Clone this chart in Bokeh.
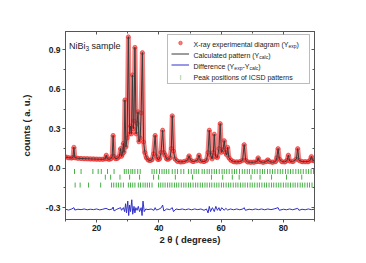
import math
from bokeh.plotting import figure
from bokeh.models import (Range1d, LinearAxis, FixedTicker, Legend, LegendItem, Label,
                          NumeralTickFormatter, CustomJSTickFormatter)
from bokeh.core.properties import value
from bokeh.embed import file_html
from bokeh.resources import INLINE

# ---------------- data ----------------
two_theta = [10.0, 11.0, 12.0, 12.4, 12.7, 13.0, 14.0, 15.0, 16.0, 17.0,
             18.0, 19.0, 20.0, 21.0, 22.0, 22.8, 23.1, 23.4, 24.0, 24.6,
             25.0, 25.3, 25.6, 26.1, 26.7, 27.3, 27.7, 28.0, 28.3, 28.6,
             28.8, 29.1, 29.4, 29.8, 30.2, 30.6, 30.9, 31.2, 31.5, 31.8,
             32.0, 32.3, 32.7, 33.0, 33.3, 33.6, 34.0, 34.3, 34.7, 35.1,
             35.5, 36.0, 36.6, 37.2, 37.8, 38.3, 38.8, 39.2, 39.7, 40.2,
             40.7, 41.2, 41.6, 42.0, 42.5, 43.0, 43.6, 44.0, 44.3, 44.7,
             45.2, 46.0, 47.0, 48.0, 49.2, 49.7, 50.2, 51.0, 52.4, 52.9,
             53.4, 54.5, 55.3, 55.8, 56.2, 56.6, 57.1, 57.5, 57.8, 58.2,
             58.8, 59.3, 59.7, 60.1, 60.6, 61.0, 61.4, 61.8, 62.1, 62.5,
             63.2, 64.0, 65.0, 66.0, 66.9, 67.4, 67.9, 68.5, 69.5, 70.5,
             71.5, 71.9, 72.3, 73.5, 74.5, 75.0, 75.5, 76.5, 77.5, 77.9,
             78.3, 78.7, 79.5, 80.5, 81.2, 81.6, 82.0, 83.0, 84.2, 84.6,
             85.0, 86.0, 87.0, 88.0, 88.6, 89.0, 89.4, 90.0]
counts = [0.085, 0.080, 0.078, 0.082, 0.160, 0.080, 0.076, 0.074, 0.073, 0.072,
          0.071, 0.070, 0.069, 0.068, 0.068, 0.072, 0.100, 0.072, 0.068, 0.072,
          0.090, 0.250, 0.090, 0.072, 0.076, 0.090, 0.150, 0.090, 0.110, 0.190,
          0.120, 0.520, 0.160, 0.230, 1.000, 0.260, 0.320, 0.260, 0.710, 0.300,
          0.360, 0.920, 0.260, 0.340, 0.430, 0.200, 0.230, 0.420, 0.880, 0.200,
          0.120, 0.080, 0.062, 0.058, 0.065, 0.110, 0.250, 0.090, 0.065, 0.070,
          0.120, 0.290, 0.120, 0.100, 0.070, 0.068, 0.080, 0.150, 0.400, 0.130,
          0.070, 0.052, 0.048, 0.050, 0.060, 0.095, 0.060, 0.050, 0.060, 0.100,
          0.055, 0.050, 0.060, 0.120, 0.290, 0.100, 0.070, 0.120, 0.260, 0.090,
          0.080, 0.150, 0.340, 0.120, 0.140, 0.210, 0.120, 0.100, 0.160, 0.080,
          0.060, 0.050, 0.048, 0.050, 0.060, 0.180, 0.060, 0.048, 0.045, 0.046,
          0.050, 0.080, 0.050, 0.045, 0.050, 0.065, 0.050, 0.045, 0.050, 0.080,
          0.150, 0.070, 0.050, 0.048, 0.060, 0.100, 0.055, 0.050, 0.070, 0.150,
          0.060, 0.050, 0.050, 0.050, 0.060, 0.090, 0.060, 0.055]

diff_theta = [10, 11, 12, 12.7, 13, 14, 15, 16, 17, 18,
              19, 20, 21, 22, 23, 24, 25, 25.3, 25.6, 26.5,
              27.7, 28.0, 28.6, 29.0, 29.3, 29.6, 30.0, 30.3, 30.6, 30.9,
              31.3, 31.6, 32.0, 32.3, 32.6, 33.0, 33.4, 33.8, 34.3, 34.6,
              34.9, 35.3, 35.8, 36.5, 37.5, 38.4, 38.8, 39.2, 40.0, 40.8,
              41.2, 41.6, 42.5, 43.5, 44.3, 44.7, 45.5, 46.5, 47.5, 48.5,
              49.5, 50.5, 51.5, 52.5, 53.5, 54.5, 55.3, 55.8, 56.2, 56.6,
              57.2, 57.8, 58.3, 58.8, 59.3, 59.7, 60.2, 61.0, 61.5, 62.1,
              63, 64, 65, 66, 67, 67.4, 67.8, 69, 70, 71,
              72, 73, 74, 75, 76, 77, 78.3, 78.7, 80, 81,
              82, 83, 84.6, 85, 86, 87, 88, 89, 90]
diff_counts = [-0.312, -0.318, -0.310, -0.300, -0.318, -0.312, -0.315, -0.310, -0.316, -0.312,
               -0.315, -0.310, -0.317, -0.312, -0.305, -0.316, -0.310, -0.295, -0.325, -0.312,
               -0.300, -0.320, -0.300, -0.330, -0.270, -0.340, -0.250, -0.360, -0.280, -0.330,
               -0.240, -0.350, -0.290, -0.340, -0.300, -0.320, -0.290, -0.330, -0.300, -0.360,
               -0.250, -0.330, -0.310, -0.315, -0.310, -0.320, -0.300, -0.318, -0.312, -0.300,
               -0.280, -0.325, -0.310, -0.315, -0.300, -0.330, -0.310, -0.315, -0.310, -0.316,
               -0.310, -0.316, -0.310, -0.315, -0.310, -0.320, -0.310, -0.340, -0.290, -0.330,
               -0.300, -0.330, -0.290, -0.320, -0.300, -0.325, -0.300, -0.320, -0.305, -0.318,
               -0.310, -0.316, -0.310, -0.316, -0.310, -0.300, -0.320, -0.312, -0.316, -0.310,
               -0.315, -0.310, -0.316, -0.310, -0.315, -0.310, -0.300, -0.320, -0.312, -0.316,
               -0.310, -0.316, -0.305, -0.320, -0.312, -0.316, -0.310, -0.315, -0.312]

# ICSD peak positions, three phases (rows)
phase1_peaks = [12.9, 15.0, 18.8, 20.5, 21.5, 23.5, 25.6, 28.9, 29.5, 30.2,
                31.0, 31.6, 32.3, 33.2, 34.0, 37.8, 38.5, 39.3, 40.2, 41.0,
                41.7, 42.4, 43.2, 44.3, 45.2, 46.0, 47.1, 48.0, 49.5, 50.4,
                51.3, 52.0, 52.8, 53.9, 54.6, 55.5, 56.2, 57.0, 57.8, 58.5,
                59.4, 60.3, 61.0, 61.8, 62.6, 63.5, 64.3, 65.0, 65.9, 66.8,
                67.6, 68.4, 69.1, 70.0, 70.8, 71.6, 72.5, 73.3, 74.0, 74.9,
                75.7, 76.5, 77.3, 78.2, 79.0, 79.8, 80.7, 81.5, 82.3, 83.1,
                84.0, 84.8, 85.6, 86.4, 87.3, 88.1, 88.9, 89.7]
phase2_peaks = [22.8, 24.5, 27.5, 30.6, 33.8, 38.3, 39.9, 45.3, 50.8, 56.9,
                60.5, 63.6, 65.8, 69.6, 72.5, 76.2, 81.0, 85.9]
phase3_peaks = [13.1, 14.7, 17.4, 21.3, 24.8, 25.5, 26.3, 27.0, 27.8, 28.6,
                30.2, 30.9, 31.6, 32.3, 33.4, 34.1, 34.9, 35.6, 36.3, 37.0,
                37.8, 39.9, 40.6, 41.3, 42.0, 42.8, 43.5, 44.2, 45.0, 45.7,
                46.4, 47.2, 48.0, 48.7, 49.5, 50.2, 51.0, 51.8, 52.5, 53.3,
                54.0, 54.8, 55.5, 56.3, 57.0, 57.8, 58.6, 59.3, 60.1, 60.8,
                61.6, 62.4, 63.1, 63.9, 64.7, 65.4, 66.2, 67.0, 67.7, 68.5,
                69.3, 70.0, 70.8, 71.6, 72.3, 73.1, 73.9, 74.6, 75.4, 76.2,
                76.9, 77.7, 78.5, 79.2, 80.0, 80.8, 81.5, 82.3, 83.1, 83.8,
                84.6, 85.4, 86.1, 86.9, 87.7, 88.4, 89.2]
phase_levels = [-0.025, -0.068, -0.128]

x_major_ticks = [20, 40, 60, 80]
x_minor_ticks = [10, 30, 50, 70, 90]
y_major_ticks = [-0.3, 0.0, 0.3, 0.6, 0.9]
y_minor_ticks = [-0.15, 0.15, 0.45, 0.75]

legend_rows = [
    [("X-ray experimental diagram (Y", 0), ("exp", 1), (")", 0)],
    [("Calculated pattern (Y", 0), ("calc", 1), (")", 0)],
    [("Difference (Y", 0), ("exp", 1), ("-Y", 0), ("calc", 1), (")", 0)],
    [("Peak positions of ICSD patterns", 0)],
]
sample_title = [("NiBi", 0), ("3", 1), (" sample", 0)]

# ---------------- layout ----------------
ORG = 0                                # page offset of the figure (observed)
FL, FT, FW, FH = 65, 31, 249, 188      # frame in page px
W, H = 352, 256
X0, X1 = 10, 90
Y0, Y1 = -0.39, 1.04
FONT = "Liberation Sans"
TXT = "#222222"
AX = "#555555"
GREEN = "#45b045"

p = figure(width=W, height=H, x_range=Range1d(X0, X1), y_range=Range1d(Y0, Y1),
           output_backend="svg", toolbar_location=None,
           x_axis_type=None, y_axis_type=None,
           min_border_left=FL - ORG, min_border_top=FT - ORG,
           min_border_right=W - (FL - ORG) - FW, min_border_bottom=H - (FT - ORG) - FH)
p.xgrid.visible = False
p.ygrid.visible = False
p.outline_line_color = AX
p.outline_line_width = 1
p.background_fill_color = "white"
p.border_fill_color = "white"


def style_axis(ax, inward, labels):
    ax.axis_line_color = AX
    ax.major_tick_line_color = AX
    ax.minor_tick_line_color = AX
    if inward:
        ax.major_tick_in, ax.major_tick_out = 3, 0
        ax.minor_tick_in, ax.minor_tick_out = 2, 0
    else:
        ax.major_tick_in, ax.major_tick_out = 0, 3
        ax.minor_tick_in, ax.minor_tick_out = 0, 2
    ax.major_label_text_font = FONT
    ax.major_label_text_font_size = "8.5px"
    ax.major_label_text_font_style = "bold"
    ax.major_label_text_color = TXT
    ax.major_label_standoff = 2
    ax.axis_label_text_font = FONT
    ax.axis_label_text_font_size = "9.5px"
    ax.axis_label_text_font_style = "bold"
    ax.axis_label_text_color = TXT
    if not labels:
        ax.formatter = CustomJSTickFormatter(code="return ''")


xt = FixedTicker(ticks=x_major_ticks, minor_ticks=x_minor_ticks)
yt = FixedTicker(ticks=y_major_ticks, minor_ticks=y_minor_ticks)

xb = LinearAxis(ticker=xt, formatter=NumeralTickFormatter(format="0"), axis_label="2 θ ( degrees)")
style_axis(xb, False, True)
xb.axis_label_standoff = 0
p.add_layout(xb, "below")

yl = LinearAxis(ticker=yt, formatter=NumeralTickFormatter(format="0.0"), axis_label="counts ( a. u.)")
style_axis(yl, False, True)
yl.axis_label_standoff = 11
p.add_layout(yl, "left")

xa = LinearAxis(ticker=xt)
style_axis(xa, True, False)
p.add_layout(xa, "above")

yr = LinearAxis(ticker=yt)
style_axis(yr, True, False)
p.add_layout(yr, "right")

# ---------------- glyphs ----------------
p.line(two_theta, counts, line_width=5, line_color="#ee2c2c", line_alpha=0.6)
r_exp = p.scatter(two_theta, counts, marker="circle", size=4,
                  fill_color="#ff5050", fill_alpha=0.75, line_color="#e01818", line_width=0.6, line_alpha=0.85)
r_calc = p.line(two_theta, counts, line_color="#3a3a3a", line_width=1)
r_diff = p.line(diff_theta, diff_counts, line_color="#3030c8", line_width=1)

tick_x, tick_y = [], []
for peaks, lvl in zip([phase1_peaks, phase2_peaks, phase3_peaks], phase_levels):
    tick_x += peaks
    tick_y += [lvl] * len(peaks)
r_pk = p.scatter(tick_x, tick_y, marker="dash", angle=math.pi / 2, size=5,
                 line_color=GREEN, line_width=1)

# ---------------- legend (box + glyphs), text overlaid ----------------
LEG_L, LEG_T, LEG_B = 167, 36, 84
ARIAL = {" ": 278, "(": 333, ")": 333, "-": 333, ".": 278,
         "A": 667, "B": 667, "C": 722, "D": 722, "E": 667, "F": 611, "G": 778, "H": 722, "I": 278,
         "N": 722, "O": 778, "P": 667, "R": 722, "S": 667, "X": 667, "Y": 667,
         "a": 556, "b": 556, "c": 500, "d": 556, "e": 556, "f": 278, "g": 556, "h": 556, "i": 222,
         "j": 222, "k": 500, "l": 222, "m": 833, "n": 556, "o": 556, "p": 556, "q": 556, "r": 333,
         "s": 500, "t": 278, "u": 556, "v": 500, "w": 722, "x": 500, "y": 500, "z": 500}


def text_w(s, size):
    return sum(ARIAL.get(c, 556) for c in s) / 1000.0 * size


def px_x(px):
    return X0 + (px - FL) * (X1 - X0) / FW


def px_y(py):
    return Y1 - (py - FT) * (Y1 - Y0) / FH


def put(text, px, py, size, color=TXT, x_off=0.0, y_off=0.0, align="left", style="normal"):
    p.add_layout(Label(x=px_x(px), y=px_y(py), x_offset=x_off, y_offset=y_off, text=text,
                       text_font=FONT, text_font_size=f"{size}px", text_font_style=style,
                       text_color=color, text_baseline="middle", text_align=align))


def rich(pieces, px, py, size, sub_size, sub_drop, style="normal"):
    off = 0.0
    for s, is_sub in pieces:
        fs = sub_size if is_sub else size
        lead = len(s) - len(s.lstrip(" "))
        off += text_w(" " * lead, fs)
        s = s.lstrip(" ")
        put(s, px, py, fs, x_off=off, y_off=-sub_drop if is_sub else 0, style=style)
        off += text_w(s, fs)


row_centers = [43.5, 54.5, 65.5, 76.5]
for pieces, cy in zip(legend_rows, row_centers):
    rich(pieces, 193, cy, 7, 5, 2)
# green tick symbol of the fourth legend row
put("|", 180, row_centers[3], 6, color=GREEN, align="center")

rich(sample_title, 68.5, 45, 9, 6.5, 2.5)

# legend box drawn with a transparent background so the overlaid texts stay visible
legend = Legend(items=[LegendItem(label=value(" "), renderers=[r_exp]),
                       LegendItem(label=value(" "), renderers=[r_calc]),
                       LegendItem(label=value(" "), renderers=[r_diff]),
                       LegendItem(label=value(" "), renderers=[])],
                location=(LEG_L - FL, FT + FH - LEG_B), margin=0, padding=3, spacing=2,
                glyph_width=18, glyph_height=9, label_height=9, label_width=113,
                label_standoff=4, label_text_font_size="7px",
                border_line_color="#777777", border_line_width=1,
                background_fill_alpha=0)
p.add_layout(legend)

open("out.html", "w").write(file_html(p, INLINE))
